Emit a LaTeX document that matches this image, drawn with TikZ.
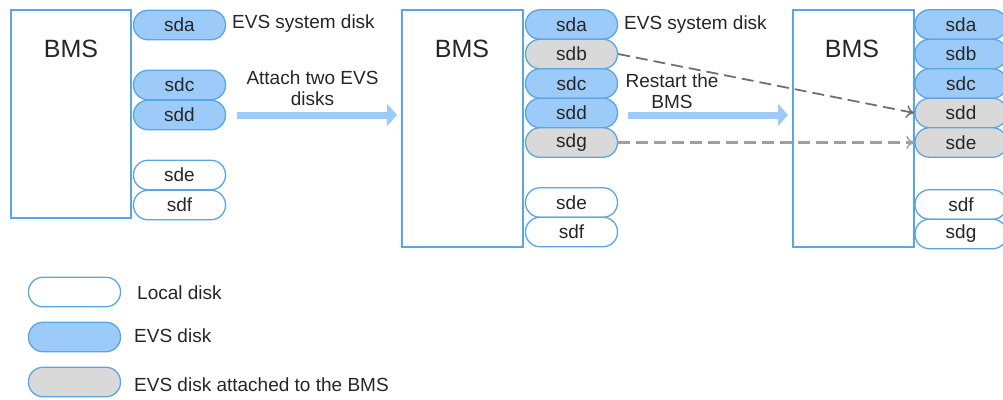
\documentclass[tikz,border=0pt]{standalone}
\usepackage{fontspec}
\setmainfont{Liberation Sans}
\usetikzlibrary{arrows.meta}
\definecolor{edgeblue}{HTML}{5AA5E3}
\definecolor{evsblue}{HTML}{9CCBFA}
\definecolor{attgray}{HTML}{D9D9D9}
\definecolor{flowblue}{HTML}{9CCBFA}
\definecolor{txt}{HTML}{262626}
\definecolor{dashdark}{HTML}{707070}
\definecolor{dashlight}{HTML}{A0A0A0}
\tikzset{
  txtsize/.style={font=\fontsize{19}{21}\selectfont, text=txt},
  bmsbox/.style={draw=edgeblue, line width=1.4pt, fill=white},
  disk/.style={draw=edgeblue, line width=1.3pt, rounded corners=14.5pt,
    minimum width=92pt, minimum height=29.5pt, inner sep=0pt, txtsize},
  localdisk/.style={disk, fill=white},
  evsdisk/.style={disk, fill=evsblue},
  attdisk/.style={disk, fill=attgray},
  label/.style={txtsize, inner sep=0pt},
  bmslabel/.style={font=\fontsize{25}{27}\selectfont, text=txt, inner sep=0pt, anchor=base},
  flow/.style={draw=flowblue, line width=7pt, -{Triangle[width=22pt,length=10pt]}},
  remap/.style={dash pattern=on 12pt off 6pt,
    -{To[length=8pt,width=13pt,line width=1.5pt]}},
}
\begin{document}
\begin{tikzpicture}[x=1pt,y=-1pt]
\useasboundingbox (0,0) rectangle (1003,399);

% first state
\draw[bmsbox] (11,10) rectangle (131,218);
\node[bmslabel] (bms1) at (71,57) {BMS};
\node[evsdisk]   (a1) at (179.5,25)  {sda};
\node[evsdisk]   (c1) at (179.5,85)  {sdc};
\node[evsdisk]   (d1) at (179.5,115) {sdd};
\node[localdisk] (e1) at (179.5,175) {sde};
\node[localdisk] (f1) at (179.5,205) {sdf};
\node[label, anchor=base west] (sys1) at (232,28) {EVS system disk};

% attach step
\node[label, align=center] (attach) at (312.5,88) {Attach two EVS\\disks};
\coordinate (s1) at (237,115);
\coordinate (t1) at (397,115);
\draw[flow] (s1) -- (t1);

% second state
\draw[bmsbox] (402,10) rectangle (523,247);
\node[bmslabel] (bms2) at (462,57) {BMS};
\node[evsdisk]   (a2) at (571.5,24.5)  {sda};
\node[attdisk]   (b2) at (571.5,54)    {sdb};
\node[evsdisk]   (c2) at (571.5,83.5)  {sdc};
\node[evsdisk]   (d2) at (571.5,113)   {sdd};
\node[attdisk]   (g2) at (571.5,142.5) {sdg};
\node[localdisk] (e2) at (571.5,202.5) {sde};
\node[localdisk] (f2) at (571.5,232)   {sdf};
\node[label, anchor=base west] (sys2) at (624,29) {EVS system disk};

% restart step
\node[label, align=center] (restart) at (672,91) {Restart the\\BMS};
\coordinate (s2) at (628,115);
\coordinate (t2) at (788,115);
\draw[flow] (s2) -- (t2);

% third state
\draw[bmsbox] (793,10) rectangle (914,247);
\node[bmslabel] (bms3) at (852,57) {BMS};
\node[evsdisk]   (a3) at (961,24.5)  {sda};
\node[evsdisk]   (b3) at (961,54)    {sdb};
\node[evsdisk]   (c3) at (961,83.5)  {sdc};
\node[attdisk]   (d3) at (961,113)   {sdd};
\node[attdisk]   (e3) at (961,142.5) {sde};
\node[localdisk] (f3) at (961,204.5) {sdf};
\node[localdisk] (g3) at (961,234)   {sdg};

% renamed attached disks
\draw[remap, draw=dashdark, line width=1.8pt] (b2.east) -- (d3.west);
\draw[remap, draw=dashlight, line width=2.6pt] (g2.east) -- (e3.west);

% legend
\node[localdisk] (k1) at (74.5,292) {};
\node[evsdisk]   (k2) at (74.5,337) {};
\node[attdisk]   (k3) at (74.5,382) {};
\node[label, anchor=base west] (kt1) at (137,299) {Local disk};
\node[label, anchor=base west] (kt2) at (134,342) {EVS disk};
\node[label, anchor=base west] (kt3) at (134,391) {EVS disk attached to the BMS};
\end{tikzpicture}
\end{document}
